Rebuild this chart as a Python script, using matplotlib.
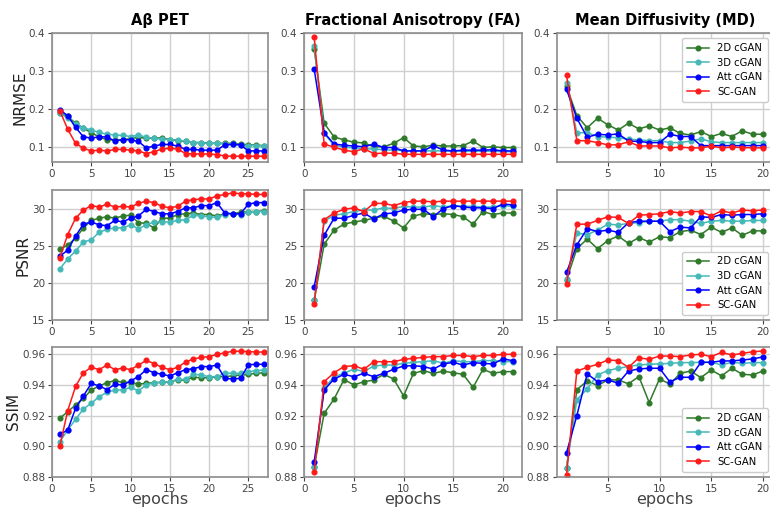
import numpy as np
import matplotlib
matplotlib.use("Agg")
import matplotlib.pyplot as plt

# ---------------- data ----------------
series_names = ["2D cGAN", "3D cGAN", "Att cGAN", "SC-GAN"]
col_titles = ["A\u03b2 PET", "Fractional Anisotropy (FA)", "Mean Diffusivity (MD)"]
row_labels = ["NRMSE", "PSNR", "SSIM"]

# Column 1: Abeta PET (27 epochs)
pet_nrmse_2d = [0.190, 0.181, 0.163, 0.150, 0.138, 0.127, 0.119, 0.119, 0.119, 0.123, 0.126, 0.123, 0.124, 0.124,
                0.120, 0.117, 0.115, 0.112, 0.112, 0.110, 0.110, 0.110, 0.110, 0.108, 0.106, 0.105, 0.104]
pet_nrmse_3d = [0.190, 0.176, 0.161, 0.151, 0.145, 0.139, 0.134, 0.132, 0.131, 0.128, 0.132, 0.126, 0.123, 0.121,
                0.120, 0.119, 0.115, 0.112, 0.112, 0.110, 0.110, 0.108, 0.108, 0.106, 0.104, 0.104, 0.103]
pet_nrmse_att = [0.198, 0.183, 0.152, 0.127, 0.124, 0.127, 0.127, 0.116, 0.120, 0.119, 0.115, 0.098, 0.103, 0.107,
                 0.107, 0.103, 0.094, 0.094, 0.092, 0.092, 0.092, 0.106, 0.107, 0.106, 0.090, 0.090, 0.090]
pet_nrmse_sc = [0.196, 0.147, 0.110, 0.097, 0.090, 0.092, 0.090, 0.094, 0.094, 0.092, 0.090, 0.083, 0.088, 0.095,
                0.097, 0.095, 0.083, 0.082, 0.082, 0.082, 0.080, 0.077, 0.076, 0.076, 0.076, 0.076, 0.076]

pet_psnr_2d = [24.5, 25.1, 26.0, 27.4, 28.4, 28.7, 28.9, 28.7, 29.0, 29.1, 28.1, 28.0, 27.4, 28.7,
               28.7, 29.2, 29.3, 29.4, 29.2, 29.2, 29.0, 29.3, 29.3, 29.5, 29.6, 29.6, 29.7]
pet_psnr_3d = [21.9, 23.2, 24.3, 25.5, 25.8, 26.8, 27.2, 27.4, 27.4, 27.8, 27.3, 27.8, 28.2, 28.2,
               28.2, 28.4, 28.5, 29.1, 29.0, 28.9, 28.8, 29.2, 29.3, 29.2, 29.5, 29.6, 29.6]
pet_psnr_att = [23.6, 24.4, 26.3, 27.9, 28.2, 27.8, 27.7, 28.4, 28.2, 28.7, 29.0, 29.9, 29.6, 29.3,
                29.3, 29.6, 30.1, 30.1, 30.4, 30.4, 30.8, 29.4, 29.3, 29.3, 30.6, 30.8, 30.8]
pet_psnr_sc = [23.4, 26.5, 28.7, 29.8, 30.4, 30.2, 30.6, 30.2, 30.3, 30.2, 30.7, 31.0, 30.8, 30.3,
               30.1, 30.3, 31.0, 31.2, 31.3, 31.3, 31.7, 31.9, 32.1, 32.0, 32.0, 31.9, 31.9]

pet_ssim_2d = [0.9182, 0.9225, 0.9269, 0.9312, 0.9367, 0.9393, 0.9415, 0.9428, 0.9417, 0.9415, 0.9406, 0.9410,
               0.9415, 0.9417, 0.9421, 0.9432, 0.9432, 0.9450, 0.9447, 0.9447, 0.9454, 0.9454, 0.9460, 0.9465,
               0.9469, 0.9476, 0.9480]
pet_ssim_3d = [0.9029, 0.9105, 0.9175, 0.9243, 0.9280, 0.9323, 0.9352, 0.9367, 0.9367, 0.9384, 0.9362, 0.9400,
               0.9415, 0.9417, 0.9421, 0.9437, 0.9437, 0.9469, 0.9465, 0.9454, 0.9454, 0.9476, 0.9476, 0.9476,
               0.9487, 0.9493, 0.9498]
pet_ssim_att = [0.9077, 0.9105, 0.9247, 0.9328, 0.9410, 0.9393, 0.9370, 0.9404, 0.9400, 0.9426, 0.9454, 0.9500,
                0.9480, 0.9470, 0.9458, 0.9480, 0.9500, 0.9506, 0.9520, 0.9520, 0.9530, 0.9443, 0.9439, 0.9443,
                0.9532, 0.9535, 0.9535]
pet_ssim_sc = [0.9001, 0.9232, 0.9390, 0.9480, 0.9515, 0.9500, 0.9530, 0.9500, 0.9510, 0.9500, 0.9530, 0.9560,
               0.9540, 0.9515, 0.9500, 0.9515, 0.9550, 0.9570, 0.9580, 0.9585, 0.9600, 0.9610, 0.9620, 0.9620,
               0.9618, 0.9615, 0.9615]

# Column 2: FA (21 epochs)
fa_nrmse_2d = [0.358, 0.163, 0.127, 0.119, 0.113, 0.111, 0.101, 0.101, 0.110, 0.125, 0.103, 0.101, 0.105, 0.103,
               0.103, 0.104, 0.116, 0.099, 0.101, 0.099, 0.099]
fa_nrmse_3d = [0.367, 0.136, 0.105, 0.100, 0.098, 0.096, 0.095, 0.093, 0.092, 0.091, 0.090, 0.090, 0.090, 0.090,
               0.089, 0.089, 0.089, 0.089, 0.089, 0.088, 0.088]
fa_nrmse_att = [0.305, 0.138, 0.108, 0.105, 0.103, 0.101, 0.108, 0.099, 0.099, 0.090, 0.090, 0.090, 0.104, 0.092,
                0.090, 0.092, 0.092, 0.092, 0.093, 0.090, 0.090]
fa_nrmse_sc = [0.389, 0.108, 0.100, 0.092, 0.088, 0.096, 0.083, 0.084, 0.084, 0.081, 0.081, 0.081, 0.081, 0.081,
               0.081, 0.081, 0.081, 0.081, 0.081, 0.081, 0.081]

fa_psnr_2d = [17.7, 25.2, 27.1, 27.9, 28.2, 28.4, 28.7, 29.0, 28.3, 27.4, 29.0, 29.3, 29.2, 29.3,
              29.2, 28.9, 27.9, 29.6, 29.2, 29.4, 29.4]
fa_psnr_3d = [17.7, 28.3, 29.1, 29.3, 29.6, 29.8, 29.8, 30.1, 30.0, 30.3, 30.2, 30.2, 30.4, 30.2,
              30.4, 30.3, 30.3, 30.2, 30.2, 30.4, 30.3]
fa_psnr_att = [19.5, 26.4, 28.7, 28.7, 29.1, 29.4, 28.6, 29.3, 29.4, 29.8, 29.9, 29.9, 28.9, 30.0,
               30.4, 30.2, 30.1, 30.1, 30.0, 30.6, 30.5]
fa_psnr_sc = [17.2, 28.5, 29.4, 29.9, 30.1, 29.6, 30.7, 30.7, 30.4, 30.8, 31.0, 31.0, 30.9, 31.0,
              31.0, 31.0, 31.0, 31.0, 31.0, 31.0, 31.0]

fa_ssim_2d = [0.8866, 0.9214, 0.9308, 0.9435, 0.9400, 0.9421, 0.9432, 0.9469, 0.9439, 0.9328, 0.9476, 0.9493,
              0.9476, 0.9490, 0.9480, 0.9469, 0.9384, 0.9502, 0.9476, 0.9487, 0.9487]
fa_ssim_3d = [0.8866, 0.9378, 0.9454, 0.9476, 0.9504, 0.9487, 0.9524, 0.9530, 0.9530, 0.9541, 0.9548, 0.9552,
              0.9559, 0.9541, 0.9559, 0.9552, 0.9552, 0.9559, 0.9559, 0.9552, 0.9552]
fa_ssim_att = [0.8898, 0.9367, 0.9439, 0.9469, 0.9454, 0.9476, 0.9454, 0.9476, 0.9502, 0.9524, 0.9526, 0.9520,
               0.9504, 0.9537, 0.9548, 0.9530, 0.9546, 0.9541, 0.9537, 0.9570, 0.9559]
fa_ssim_sc = [0.8833, 0.9421, 0.9480, 0.9520, 0.9526, 0.9502, 0.9552, 0.9552, 0.9552, 0.9567, 0.9574, 0.9580,
              0.9585, 0.9585, 0.9593, 0.9593, 0.9585, 0.9593, 0.9593, 0.9600, 0.9600]

# Column 3: MD (20 epochs)
md_nrmse_2d = [0.260, 0.183, 0.151, 0.176, 0.159, 0.145, 0.163, 0.148, 0.156, 0.145, 0.151, 0.136, 0.132, 0.141,
               0.128, 0.136, 0.128, 0.143, 0.134, 0.134]
md_nrmse_3d = [0.270, 0.138, 0.138, 0.128, 0.126, 0.125, 0.121, 0.119, 0.117, 0.117, 0.112, 0.112, 0.116, 0.122,
               0.114, 0.112, 0.112, 0.112, 0.112, 0.112]
md_nrmse_att = [0.252, 0.176, 0.126, 0.134, 0.132, 0.135, 0.116, 0.115, 0.112, 0.112, 0.134, 0.128, 0.128, 0.104,
                0.104, 0.104, 0.104, 0.104, 0.104, 0.104]
md_nrmse_sc = [0.289, 0.117, 0.117, 0.112, 0.106, 0.106, 0.114, 0.103, 0.103, 0.103, 0.098, 0.100, 0.098, 0.098,
               0.103, 0.098, 0.100, 0.099, 0.098, 0.098]

md_psnr_2d = [20.4, 24.6, 25.9, 24.6, 25.7, 26.3, 25.3, 26.1, 25.5, 26.2, 26.1, 26.9, 27.1, 26.5,
              27.5, 26.8, 27.4, 26.4, 27.0, 27.0]
md_psnr_3d = [20.5, 26.7, 26.5, 27.1, 27.9, 27.8, 28.0, 28.1, 28.3, 28.3, 28.5, 28.5, 28.3, 28.0,
              28.3, 28.4, 28.3, 28.3, 28.4, 28.4]
md_psnr_att = [21.4, 25.1, 27.3, 26.9, 27.1, 26.8, 28.1, 28.3, 28.3, 28.3, 26.9, 27.5, 27.4, 28.9,
               28.8, 29.2, 29.1, 29.2, 29.2, 29.3]
md_psnr_sc = [19.9, 27.9, 27.9, 28.4, 28.9, 28.8, 28.0, 29.1, 29.2, 29.3, 29.6, 29.4, 29.6, 29.6,
              29.0, 29.7, 29.4, 29.8, 29.7, 29.8]

md_ssim_2d = [0.8858, 0.9368, 0.9427, 0.9396, 0.9433, 0.9433, 0.9407, 0.9455, 0.9285, 0.9440, 0.9405, 0.9476,
              0.9491, 0.9448, 0.9498, 0.9459, 0.9509, 0.9470, 0.9465, 0.9491]
md_ssim_3d = [0.8858, 0.9303, 0.9374, 0.9466, 0.9494, 0.9509, 0.9520, 0.9531, 0.9535, 0.9538, 0.9541, 0.9546,
              0.9546, 0.9548, 0.9548, 0.9531, 0.9548, 0.9541, 0.9546, 0.9546]
md_ssim_att = [0.8956, 0.9200, 0.9472, 0.9422, 0.9433, 0.9411, 0.9491, 0.9505, 0.9509, 0.9509, 0.9420, 0.9450,
               0.9450, 0.9548, 0.9548, 0.9557, 0.9557, 0.9563, 0.9570, 0.9583]
md_ssim_sc = [0.8811, 0.9491, 0.9515, 0.9535, 0.9563, 0.9559, 0.9515, 0.9578, 0.9567, 0.9589, 0.9589, 0.9585,
              0.9596, 0.9600, 0.9585, 0.9613, 0.9596, 0.9606, 0.9617, 0.9622]

grid_data = [
    [[pet_nrmse_2d, pet_nrmse_3d, pet_nrmse_att, pet_nrmse_sc],
     [fa_nrmse_2d, fa_nrmse_3d, fa_nrmse_att, fa_nrmse_sc],
     [md_nrmse_2d, md_nrmse_3d, md_nrmse_att, md_nrmse_sc]],
    [[pet_psnr_2d, pet_psnr_3d, pet_psnr_att, pet_psnr_sc],
     [fa_psnr_2d, fa_psnr_3d, fa_psnr_att, fa_psnr_sc],
     [md_psnr_2d, md_psnr_3d, md_psnr_att, md_psnr_sc]],
    [[pet_ssim_2d, pet_ssim_3d, pet_ssim_att, pet_ssim_sc],
     [fa_ssim_2d, fa_ssim_3d, fa_ssim_att, fa_ssim_sc],
     [md_ssim_2d, md_ssim_3d, md_ssim_att, md_ssim_sc]],
]

# ---------------- style ----------------
colors = ["#2f7a2a", "#45b8b8", "#0000ff", "#ff1a1a"]
tick_color = "#444444"
spine_color = "#8c8c8c"

fig = plt.figure(figsize=(7.7, 5.12), dpi=100)
W, H = 770.0, 512.0
col_px = [(52, 216), (304.3, 217.4), (556.7, 216)]
row_px = [(33.3, 162.3), (190, 320), (346.7, 476.7)]
ylims = [(0.06, 0.40), (15, 32.5), (0.88, 0.965)]
yticks = [[0.1, 0.2, 0.3, 0.4], [15, 20, 25, 30], [0.88, 0.90, 0.92, 0.94, 0.96]]
yfmt = ["{:.1f}", "{:.0f}", "{:.2f}"]
xlims = [(0, 27.5), (0, 21.9), (0.05, 20.95)]
xticks = [[0, 5, 10, 15, 20, 25], [0, 5, 10, 15, 20], [5, 10, 15, 20]]
legend_loc = ["upper right", "lower right", "lower right"]

for r in range(3):
    for c in range(3):
        x0, w = col_px[c]
        top, bot = row_px[r]
        ax = fig.add_axes([x0 / W, 1 - bot / H, w / W, (bot - top) / H])
        for s in range(4):
            vals = grid_data[r][c][s]
            ep = np.arange(1, len(vals) + 1)
            ax.plot(ep, vals, "-o", color=colors[s], lw=1.1, ms=3.4, label=series_names[s])
        ax.set_xlim(*xlims[c])
        ax.set_ylim(*ylims[r])
        ax.set_xticks(xticks[c])
        ax.set_yticks(yticks[r])
        ax.set_yticklabels([yfmt[r].format(v) for v in yticks[r]])
        ax.grid(True, color="#cfcfcf", lw=1.0)
        ax.set_axisbelow(True)
        ax.tick_params(labelsize=7.5, colors=tick_color, length=3, width=0.8, pad=2)
        for sp in ax.spines.values():
            sp.set_color(spine_color)
            sp.set_linewidth(1.2)
        if r == 0:
            ax.set_title(col_titles[c], fontsize=10.5, fontweight="bold", pad=6)
        if c == 0:
            ax.set_ylabel(row_labels[r], fontsize=11, color="#222222", labelpad=1)
        if r == 2:
            ax.set_xlabel("epochs", fontsize=11.5, color="#444444", labelpad=-1)
        if c == 2:
            ax.legend(loc=legend_loc[r], fontsize=7.2, handlelength=2.2, borderpad=0.5,
                      labelspacing=0.45, framealpha=1, edgecolor="#cccccc")

fig.savefig("out.png", dpi=100)
